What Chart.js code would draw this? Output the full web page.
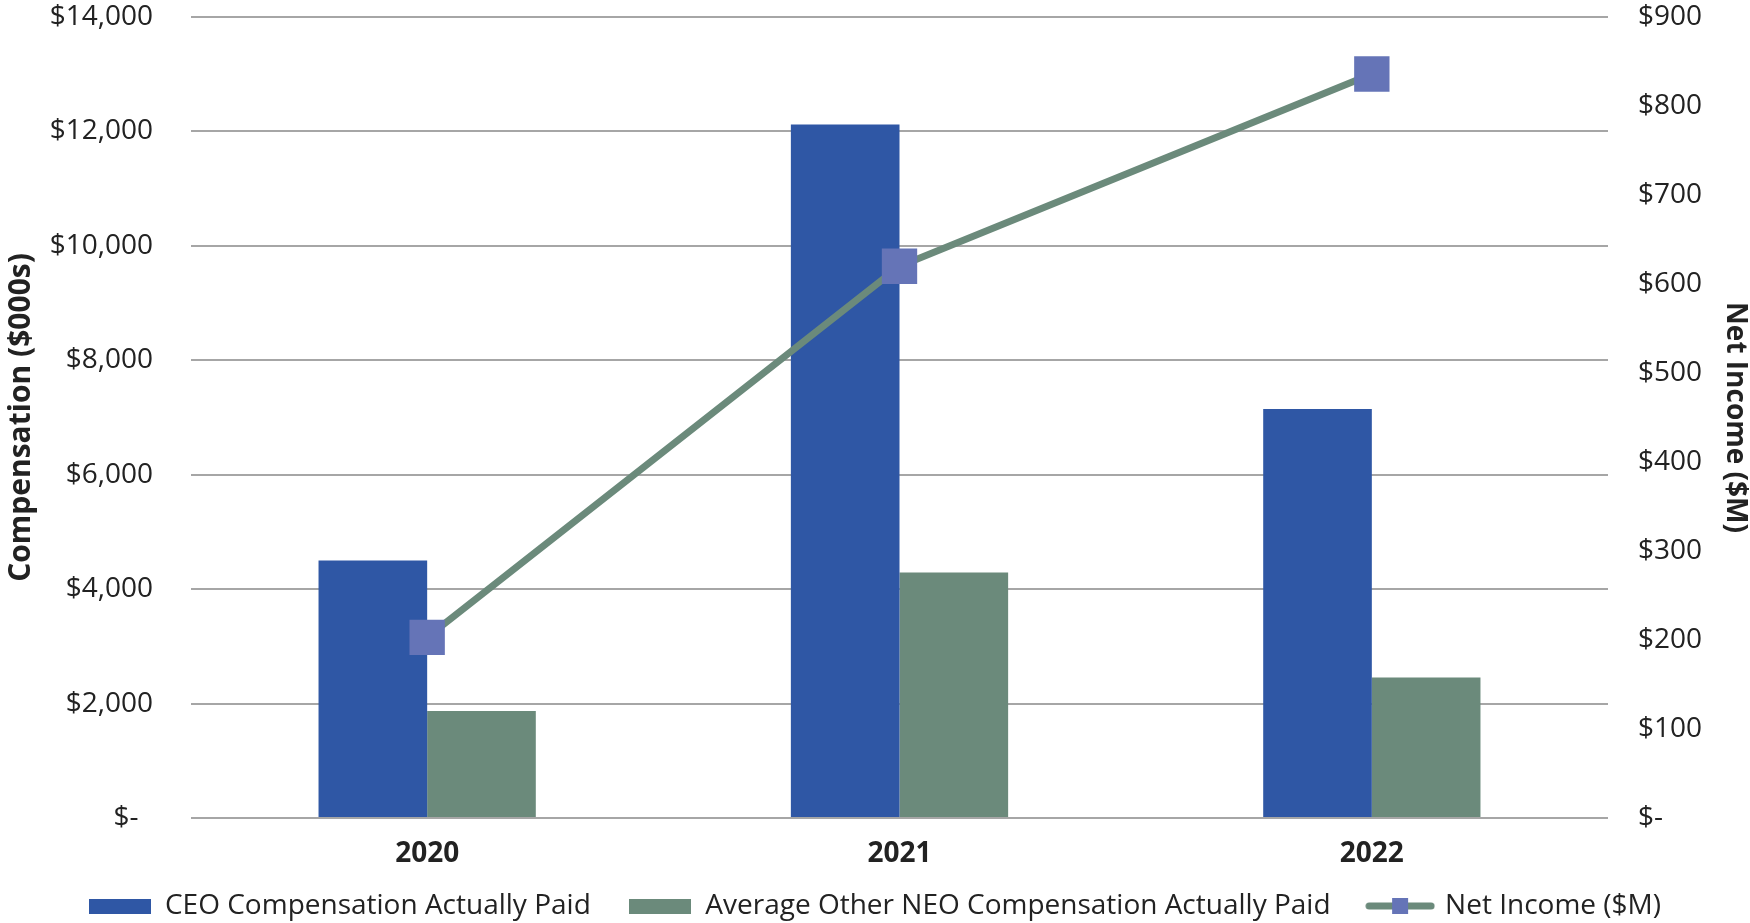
<!DOCTYPE html>
<html>
<head>
<meta charset="utf-8">
<script src="https://cdn.jsdelivr.net/npm/chart.js@4.4.1/dist/chart.umd.min.js"></script>
<style>
  html, body { margin: 0; padding: 0; background: #fff; overflow: hidden; }
  #wrap { width: 1750px; height: 923px; position: relative; }
</style>
</head>
<body>
<div id="wrap"><canvas id="chart"></canvas></div>
<script>
const years = ['2020', '2021', '2022'];
const ceoPaid = [4500, 12120, 7150];
const neoPaid = [1870, 4290, 2455];
const netIncome = [203, 620, 836];

const leftTicks = { min: 0, max: 14000, step: 2000 };
const rightTicks = { min: 0, max: 900, step: 100 };

const blue = '#2F57A5';
const green = '#6B8A7B';
const marker = '#6574B7';
const grid = '#A6A6A6';
const text = '#222222';

// legend icons drawn on small canvases
function barIcon(color) {
    const c = document.createElement('canvas');
    c.width = 62;
    c.height = 15;
    const g = c.getContext('2d');
    g.fillStyle = color;
    g.fillRect(0, 0, 62, 15);
    return c;
}

function lineIcon() {
    const c = document.createElement('canvas');
    c.width = 70;
    c.height = 16;
    const g = c.getContext('2d');
    g.strokeStyle = green;
    g.lineWidth = 7;
    g.lineCap = 'round';
    g.beginPath();
    g.moveTo(4, 8);
    g.lineTo(66, 8);
    g.stroke();
    g.fillStyle = marker;
    g.fillRect(27, 0, 16, 16);
    return c;
}

const legendIcons = [barIcon(blue), barIcon(green), lineIcon()];

// chart.js counts tick padding twice when fitting, so pin the sizes here
function fixVertical(width) {
    return function (scale) {
        scale.width = width;
        scale.paddingTop = 17;
        scale.paddingBottom = 17;
    };
}

Chart.defaults.font.family = '"Open Sans", sans-serif';
Chart.defaults.color = text;

const ctx = document.getElementById('chart').getContext('2d');

new Chart(ctx, {
    type: 'bar',
    data: {
        labels: years,
        datasets: [
            {
                label: 'CEO Compensation Actually Paid  ',
                data: ceoPaid,
                backgroundColor: blue,
                yAxisID: 'y',
                order: 2,
                categoryPercentage: 0.46,
                barPercentage: 1
            },
            {
                label: 'Average Other NEO Compensation Actually Paid  ',
                data: neoPaid,
                backgroundColor: green,
                yAxisID: 'y',
                order: 2,
                categoryPercentage: 0.46,
                barPercentage: 1
            },
            {
                type: 'line',
                label: 'Net Income ($M)',
                data: netIncome,
                borderColor: green,
                borderWidth: 7,
                backgroundColor: marker,
                pointStyle: 'rect',
                pointRadius: 25,
                pointHoverRadius: 25,
                pointBorderWidth: 0,
                pointBackgroundColor: marker,
                yAxisID: 'y1',
                order: 0,
                fill: false,
                tension: 0
            }
        ]
    },
    options: {
        responsive: true,
        maintainAspectRatio: false,
        animation: false,
        layout: {
            autoPadding: false,
            padding: { left: 0, right: 0, top: 0, bottom: -7 }
        },
        scales: {
            x: {
                grid: { display: false },
                border: { display: false },
                ticks: {
                    padding: 11,
                    font: { size: 28, weight: 'bold' },
                    color: text
                },
                afterFit: function (scale) {
                    scale.height = 50;
                }
            },
            y: {
                position: 'left',
                min: leftTicks.min,
                max: leftTicks.max,
                grid: { color: grid, lineWidth: 2, drawTicks: false },
                border: { display: false },
                ticks: {
                    stepSize: leftTicks.step,
                    padding: 38,
                    font: { size: 28 },
                    color: text,
                    callback: function (value) {
                        return value === 0 ? '$-  ' : '$' + value.toLocaleString('en-US');
                    }
                },
                title: {
                    display: true,
                    text: 'Compensation ($000s)',
                    font: { size: 30, weight: 'bold' },
                    color: text,
                    padding: { top: 3, bottom: 12 }
                },
                afterFit: fixVertical(191)
            },
            y1: {
                position: 'right',
                min: rightTicks.min,
                max: rightTicks.max,
                grid: { display: false, drawTicks: false },
                border: { display: false },
                ticks: {
                    stepSize: rightTicks.step,
                    padding: 30,
                    font: { size: 28 },
                    color: text,
                    callback: function (value) {
                        return value === 0 ? '$-' : '$' + value;
                    }
                },
                title: {
                    display: true,
                    text: 'Net Income ($M)',
                    font: { size: 28, weight: 'bold' },
                    color: text,
                    padding: { top: -2, bottom: 16 }
                },
                afterFit: fixVertical(142)
            }
        },
        plugins: {
            legend: {
                position: 'bottom',
                labels: {
                    usePointStyle: true,
                    pointStyleWidth: 62,
                    padding: 24,
                    font: { size: 28 },
                    color: text,
                    sort: function (a, b) {
                        return a.datasetIndex - b.datasetIndex;
                    },
                    generateLabels: function (chart) {
                        const items = Chart.defaults.plugins.legend.labels.generateLabels(chart);
                        items.forEach(function (item) {
                            item.pointStyle = legendIcons[item.datasetIndex];
                        });
                        return items;
                    }
                }
            },
            tooltip: { enabled: false }
        }
    }
});
</script>
</body>
</html>
